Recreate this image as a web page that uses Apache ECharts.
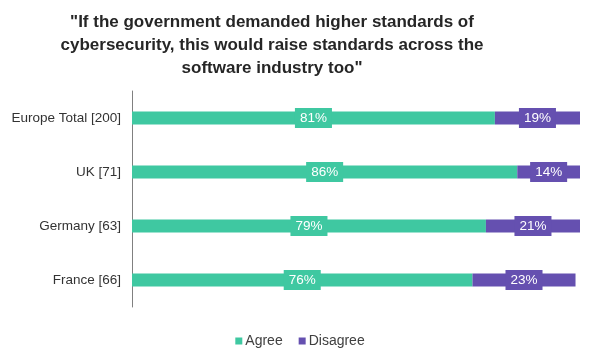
<!DOCTYPE html>
<html>
<head>
<meta charset="utf-8">
<script src="https://cdn.jsdelivr.net/npm/echarts@6/dist/echarts.min.js"></script>
<style>html,body{margin:0;padding:0;background:#fff}#c{width:600px;height:360px}</style>
</head>
<body>
<div id="c"></div>
<script>
var categories = ['Europe Total [200]', 'UK [71]', 'Germany [63]', 'France [66]'];
var agree = [81, 86, 79, 76];
var disagree = [19, 14, 21, 23];
var seriesNames = ['Agree', 'Disagree'];
var titleText = '"If the government demanded higher standards of\ncybersecurity, this would raise standards across the\nsoftware industry too"';

var green = '#3FC8A1';
var purple = '#6550B0';
var chart = echarts.init(document.getElementById('c'), null, {renderer: 'canvas'});
function lbl(color) {
  return {
    show: true, position: 'inside', color: '#fff', fontSize: 13.5,
    fontFamily: 'Liberation Sans, Arial, sans-serif',
    backgroundColor: color, padding: [3, 5, 3, 5],
    formatter: function (p) { return p.value + '%'; }
  };
}
chart.setOption({
  animation: false,
  backgroundColor: '#fff',
  title: {
    text: titleText, left: 267, top: 6, textAlign: 'center',
    textStyle: {fontSize: 17, fontWeight: 'bold', color: '#262626', lineHeight: 23,
      fontFamily: 'Liberation Sans, Arial, sans-serif'}
  },
  legend: {
    data: seriesNames, left: 'center', top: 329, icon: 'rect', itemWidth: 7, itemHeight: 7,
    itemGap: 16, textStyle: {fontSize: 14, color: '#404040', fontFamily: 'Liberation Sans, Arial, sans-serif', padding: [0,0,0,-2]}
  },
  grid: {left: 132, right: 20, top: 91, bottom: 53, containLabel: false},
  xAxis: {type: 'value', min: 0, max: 100, show: false},
  yAxis: {
    type: 'category', data: categories, inverse: true,
    axisLine: {show: true, lineStyle: {color: '#808080', width: 1}},
    axisTick: {show: false},
    axisLabel: {fontSize: 13.5, color: '#333', margin: 11, fontFamily: 'Liberation Sans, Arial, sans-serif'}
  },
  series: [
    {name: seriesNames[0], type: 'bar', stack: 's', data: agree, barWidth: 13,
      itemStyle: {color: green}, label: lbl(green)},
    {name: seriesNames[1], type: 'bar', stack: 's', data: disagree, barWidth: 13,
      itemStyle: {color: purple}, label: lbl(purple)}
  ]
});
</script>
</body>
</html>
